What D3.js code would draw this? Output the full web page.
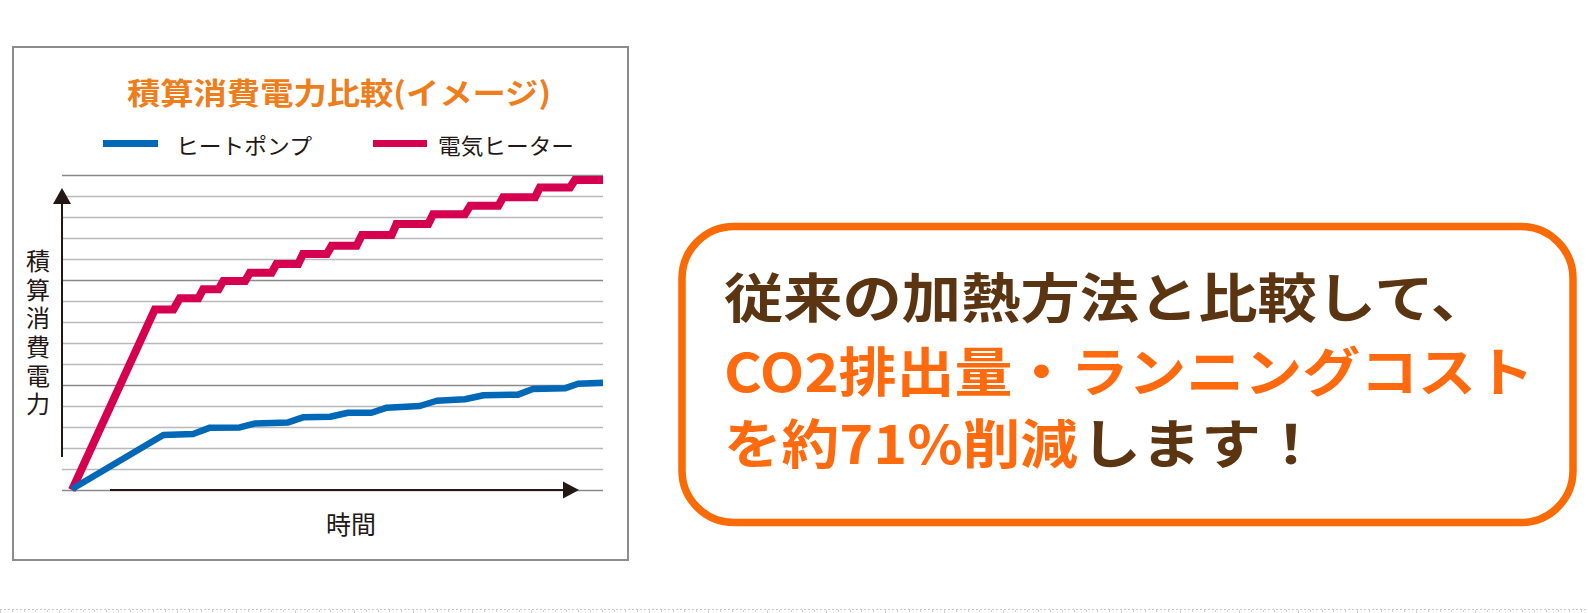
<!DOCTYPE html>
<html><head><meta charset="utf-8">
<script src="https://cdn.jsdelivr.net/npm/d3@7"></script>
<style>html,body{margin:0;padding:0;background:#fff;} svg{display:block;}</style>
</head><body>
<svg id="c" width="1588" height="613"></svg>
<script>
// ---- data ----
const chartTitle = "積算消費電力比較(イメージ)";
const seriesNames = ["ヒートポンプ", "電気ヒーター"];
const seriesColors = ["#0068b7", "#d5004f"];
const yAxisLabel = "積算消費電力";
const xAxisLabel = "時間";
const gridValues = [0,1,2,3,4,5,6,7,8,9,10,11,12,13,14,15];
const majorGridValues = [0,5,10,15];

const heaterTime   = [0,15.6,19.1,20.3,23.8,24.7,27.6,28.5,32.6,33.5,37.6,38.5,42.6,43.5,48.0,48.9,53.6,54.6,60.2,61.1,67.1,68.0,74.0,75.0,80.3,81.2,87.2,88.1,93.8,94.7,100];
const heaterEnergy = [0,8.6,8.6,9.13,9.13,9.56,9.56,9.95,9.95,10.35,10.35,10.76,10.76,11.24,11.24,11.63,11.63,12.14,12.14,12.67,12.67,13.13,13.13,13.54,13.54,13.94,13.94,14.41,14.41,14.76,14.76];

const heatPumpTime   = [0,17.2,22.8,26.0,31.6,34.5,40.7,43.5,48.6,52.0,56.4,59.3,65.5,68.7,74.0,77.5,84.0,86.8,92.8,95.3,100];
const heatPumpEnergy = [0.05,2.62,2.67,2.97,2.98,3.17,3.22,3.46,3.49,3.68,3.68,3.92,4.0,4.25,4.32,4.51,4.54,4.81,4.84,5.06,5.11];

const messageLine1 = "従来の加熱方法と比較して、";
const messageLine2 = "CO2排出量・ランニングコスト";
const messageLine3a = "を約71%削減";
const messageLine3b = "します！";

// ---- drawing ----
const svg = d3.select("#c");
const FONT = "'Noto Sans CJK JP','Noto Sans',sans-serif";
const ink = "#231815";

// page bottom dotted ruler
svg.append("line").attr("x1",0).attr("x2",1588).attr("y1",609.5).attr("y2",609.5)
  .attr("stroke","#c8c8c8").attr("stroke-width",1).attr("stroke-dasharray","2 2");
const rulerTicks = d3.range(0, 1588, 11.8);
svg.append("g").selectAll("line").data(rulerTicks).join("line")
  .attr("x1",d=>Math.round(d)+0.5).attr("x2",d=>Math.round(d)+0.5)
  .attr("y1",610).attr("y2",(d,i)=> i%5===0 ? 613 : 612)
  .attr("stroke","#d0d0d0").attr("stroke-width",1);

// chart frame
svg.append("rect").attr("x",13).attr("y",47).attr("width",615).attr("height",513)
  .attr("fill","#fff").attr("stroke","#8c8c8c").attr("stroke-width",2);

// title
svg.append("text").attr("x",127).attr("y",91).attr("dominant-baseline","central")
  .attr("font-family",FONT).attr("font-weight",700).attr("font-size",30)
  .attr("fill","#ee7d1c").attr("textLength",424).attr("lengthAdjust","spacingAndGlyphs")
  .text(chartTitle);

// legend
const legendX = [[103,158,176],[373,427,438]];
seriesNames.forEach((name,i)=>{
  svg.append("line").attr("x1",legendX[i][0]).attr("x2",legendX[i][1])
    .attr("y1",143.5).attr("y2",143.5).attr("stroke",seriesColors[i]).attr("stroke-width",7);
  svg.append("text").attr("x",legendX[i][2]).attr("y",144).attr("dominant-baseline","central")
    .attr("font-family",FONT).attr("font-size",22).attr("fill",ink)
    .attr("textLength",136).attr("lengthAdjust","spacingAndGlyphs").text(name);
});

// scales
const x = d3.scaleLinear().domain([0,100]).range([72,603]);
const y = d3.scaleLinear().domain([0,15]).range([490,175]);

// gridlines via axis
const grid = svg.append("g").attr("transform","translate(603,0)")
  .call(d3.axisLeft(y).tickValues(gridValues).tickSize(603-62).tickFormat(""));
grid.select(".domain").remove();
grid.selectAll(".tick line")
  .attr("stroke",d=> majorGridValues.includes(d) ? "#8a8a8a" : "#b9b9b9")
  .attr("stroke-width",1.6);

// axes arrows
const axisG = svg.append("g");
axisG.append("line").attr("x1",62).attr("x2",62).attr("y1",200).attr("y2",457)
  .attr("stroke",ink).attr("stroke-width",2);
axisG.append("path").attr("d","M62,188 L53,204 L71,204 Z").attr("fill",ink);
axisG.append("line").attr("x1",110).attr("x2",566).attr("y1",y(0)).attr("y2",y(0))
  .attr("stroke",ink).attr("stroke-width",2.2);
axisG.append("path").attr("d",`M579,${y(0)} L563,${y(0)-8.5} L563,${y(0)+8.5} Z`).attr("fill",ink);

// axis labels (vertical y label as one text)
svg.append("text").attr("x",38).attr("y",249)
  .attr("writing-mode","vertical-rl").style("writing-mode","vertical-rl")
  .attr("font-family",FONT).attr("font-size",24).attr("letter-spacing","4.6px")
  .attr("fill",ink).text(yAxisLabel);
svg.append("text").attr("x",351).attr("y",523).attr("text-anchor","middle")
  .attr("dominant-baseline","central").attr("font-family",FONT).attr("font-size",25)
  .attr("fill",ink).text(xAxisLabel);

// series lines
const line = d3.line().x(d=>x(d[0])).y(d=>y(d[1]));
const heater = heaterTime.map((t,i)=>[t,heaterEnergy[i]]);
const heatPump = heatPumpTime.map((t,i)=>[t,heatPumpEnergy[i]]);
svg.append("path").datum(heater).attr("d",line).attr("fill","none")
  .attr("stroke",seriesColors[1]).attr("stroke-width",8).attr("stroke-linejoin","miter");
svg.append("path").datum(heatPump).attr("d",line).attr("fill","none")
  .attr("stroke",seriesColors[0]).attr("stroke-width",6.5).attr("stroke-linejoin","round");

// message box
svg.append("rect").attr("x",682).attr("y",226.5).attr("width",891).attr("height",296)
  .attr("rx",52).attr("ry",52).attr("fill","#fff").attr("stroke","#fa6a05").attr("stroke-width",7.5);

const brown = "#5b3511", orange = "#ff6a0e";
function msg(txt, xx, yy, col, len){
  svg.append("text").attr("x",xx).attr("y",yy).attr("dominant-baseline","central")
    .attr("font-family",FONT).attr("font-weight",700).attr("font-size",53)
    .attr("fill",col).attr("textLength",len).attr("lengthAdjust","spacingAndGlyphs").text(txt);
}
msg(messageLine1, 724, 295, brown, 766);
msg(messageLine2, 724, 369, orange, 810);
msg(messageLine3a, 724, 441, orange, 354);
msg(messageLine3b, 1081, 441, brown, 240);
</script>
</body></html>
